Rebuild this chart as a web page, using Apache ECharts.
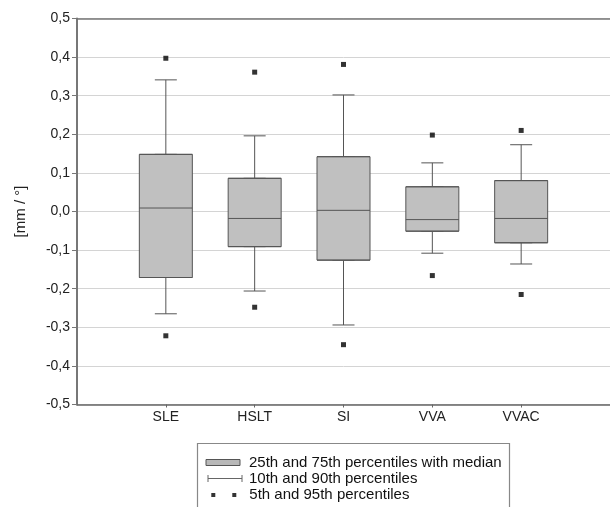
<!DOCTYPE html>
<html>
<head>
<meta charset="utf-8">
<title>Boxplot</title>
<script src="https://cdn.jsdelivr.net/npm/echarts@6/dist/echarts.min.js"></script>
<style>
  html, body { margin: 0; padding: 0; background: #fff; }
  #chart { width: 610px; height: 507px; }
</style>
</head>
<body>
<div id="chart"></div>
<script>
// categories and percentiles
var categories = ['SLE', 'HSLT', 'SI', 'VVA', 'VVAC'];
var positions = [1, 2, 3, 4, 5];
var p5  = [-0.322, -0.248, -0.345, -0.166, -0.215];
var p10 = [-0.265, -0.206, -0.294, -0.108, -0.136];
var p25 = [-0.171, -0.091, -0.126, -0.051, -0.081];
var p50 = [0.009, -0.018, 0.003, -0.021, -0.018];
var p75 = [0.148, 0.086, 0.142, 0.064, 0.080];
var p90 = [0.341, 0.196, 0.302, 0.126, 0.173];
var p95 = [0.397, 0.361, 0.381, 0.198, 0.210];
var legendNames = [
    '25th and 75th percentiles with median',
    '10th and 90th percentiles',
    '5th and 95th percentiles'
];

var boxData = [], whiskerData = [], dotData = [];
for (var i = 0; i < categories.length; i++) {
    var x = positions[i];
    boxData.push([x, p25[i], p25[i], p50[i], p75[i], p75[i]]);
    whiskerData.push([x, p10[i], p25[i], p50[i], p75[i], p90[i]]);
    dotData.push([x, p5[i]]);
    dotData.push([x, p95[i]]);
}

var fontFam = '"Liberation Sans", Arial, sans-serif';
var lineCol = '#555';

function legendRow(name, top, left, w, h, icon, style, pad) {
    return {
        data: [{ name: name, icon: icon, itemStyle: style }],
        left: left,
        top: top,
        orient: 'vertical',
        padding: 0,
        itemWidth: w,
        itemHeight: h,
        selectedMode: false,
        textStyle: {
            color: '#111',
            fontSize: 15,
            fontFamily: fontFam,
            lineHeight: 15,
            padding: [0, 0, 0, pad]
        }
    };
}

var chart = echarts.init(document.getElementById('chart'));
var option = {
    animation: false,
    grid: { left: 77, right: 0, top: 18.5, bottom: 102.5 },
    xAxis: [{
        type: 'value',
        min: 0,
        max: 6,
        interval: 1,
        splitLine: { show: false },
        axisLine: { onZero: false, lineStyle: { color: '#666', width: 1.5 } },
        axisTick: { customValues: positions, length: 3, lineStyle: { color: '#666' } },
        axisLabel: {
            customValues: positions,
            margin: 6,
            color: '#222',
            fontSize: 14,
            fontFamily: fontFam,
            formatter: function (v) { return categories[Math.round(v) - 1] || ''; }
        }
    }, {
        // top frame line, also carries the narrow whisker series
        type: 'value',
        position: 'top',
        min: 0,
        max: 6,
        interval: 1,
        splitLine: { show: false },
        axisLine: { onZero: false, lineStyle: { color: '#777', width: 1.5 } },
        axisTick: { show: false },
        axisLabel: { show: false }
    }],
    yAxis: {
        type: 'value',
        min: -0.5,
        max: 0.5,
        interval: 0.1,
        name: '[mm / °]',
        nameLocation: 'middle',
        nameRotate: 90,
        nameGap: 49,
        nameTextStyle: { color: '#222', fontSize: 15, fontFamily: fontFam },
        axisLine: { show: true, lineStyle: { color: '#777', width: 2 } },
        axisTick: { show: true, length: 5, lineStyle: { color: '#777' } },
        axisLabel: {
            margin: 7,
            color: '#222',
            fontSize: 14,
            fontFamily: fontFam,
            formatter: function (v) {
                var s = Math.abs(v) < 1e-9 ? '0.0' : v.toFixed(1);
                return s.replace('.', ',');
            }
        },
        splitLine: { lineStyle: { color: '#d4d4d4', width: 1 } }
    },
    legend: [
        legendRow(legendNames[0], 455, 205.5, 34, 6, 'path://M0,0h34v6h-34z',
            { color: '#b8b8b8', borderColor: '#555', borderWidth: 1 }, 4),
        legendRow(legendNames[1], 471, 205.5, 34, 7, 'path://M0,0v7M0,3.5h34M34,0v7',
            { color: 'none', borderColor: '#666', borderWidth: 1 }, 2),
        legendRow(legendNames[2], 487.5, 211.3, 25, 4, 'path://M0,0h4v4h-4zM21,0h4v4h-4z',
            { color: '#000', borderWidth: 0 }, 8)
    ],
    graphic: [{
        type: 'rect',
        left: 195,
        top: 441,
        shape: { width: 312, height: 80 },
        style: { fill: 'none', stroke: '#888', lineWidth: 1.2 }
    }],
    series: [{
        name: legendNames[1],
        type: 'boxplot',
        xAxisIndex: 1,
        boxWidth: [22, 22],
        data: whiskerData,
        itemStyle: { color: '#c0c0c0', borderColor: lineCol, borderWidth: 1 },
        z: 2
    }, {
        name: legendNames[0],
        type: 'boxplot',
        xAxisIndex: 0,
        boxWidth: [53, 53],
        data: boxData,
        itemStyle: { color: '#c0c0c0', borderColor: lineCol, borderWidth: 1 },
        z: 3
    }, {
        name: legendNames[2],
        type: 'scatter',
        xAxisIndex: 0,
        symbol: 'rect',
        symbolSize: 5,
        data: dotData,
        itemStyle: { color: '#000' },
        z: 4
    }]
};
chart.setOption(option);
</script>
</body>
</html>
